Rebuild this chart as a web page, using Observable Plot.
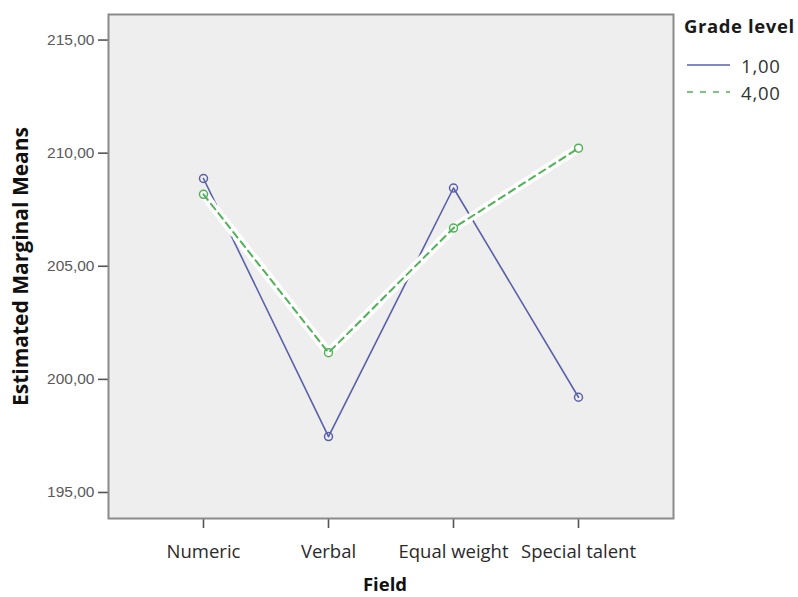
<!DOCTYPE html>
<html>
<head>
<meta charset="utf-8">
<script src="https://cdn.jsdelivr.net/npm/d3@7"></script>
<script src="https://cdn.jsdelivr.net/npm/@observablehq/plot@0.6"></script>
<style>
  html, body { margin: 0; padding: 0; background: #fff; }
  #wrap { position: relative; width: 798px; height: 597px; overflow: hidden; }
  #legend { position: absolute; left: 0; top: 0; font-family: "Open Sans", sans-serif; color: #222; }
  #legend .title { position: absolute; left: 684px; top: 13px; white-space: nowrap; font-weight: bold; font-size: 18.5px; letter-spacing: 0.6px; color: #1a1a1a; }
  #legend .item { position: absolute; left: 686px; display: flex; align-items: center; font-size: 18.5px; letter-spacing: 0.8px; height: 26px; color: #333; white-space: nowrap; }
  #legend svg { margin-right: 9px; }
</style>
</head>
<body>
<div id="wrap"><div id="chart"></div><div id="legend"></div></div>
<script>
const categories = ["Numeric", "Verbal", "Equal weight", "Special talent"];
const grade1 = [208.88, 197.47, 208.46, 199.21];
const grade4 = [208.18, 201.18, 206.69, 210.22];
const seriesNames = ["1,00", "4,00"];
const yTicks = [195, 200, 205, 210, 215];

const blue = "#5a60a8";
const green = "#4fb257";

const d1 = categories.map((c, i) => ({field: c, value: grade1[i], grade: seriesNames[0]}));
const d4 = categories.map((c, i) => ({field: c, value: grade4[i], grade: seriesNames[1]}));

const fmt = d => d.toFixed(2).replace(".", ",");

const chart = Plot.plot({
  width: 798,
  height: 597,
  marginLeft: 108,
  marginRight: 125,
  marginTop: 14,
  marginBottom: 79,
  style: {fontFamily: "Open Sans, sans-serif", background: "#fff", color: "#333"},
  x: {type: "point", domain: categories, padding: 0.75},
  y: {domain: [193.85, 216.13]},
  marks: [
    Plot.frame({fill: "#eeeeee"}),
    Plot.axisY({ticks: yTicks, tickFormat: fmt, tickSize: 10, tickPadding: 4, label: null,
      fontSize: 15.5, fontFamily: "Liberation Sans, Arial, sans-serif", color: "#5a5a5a", stroke: "#555", strokeWidth: 1.6}),
    Plot.axisX({tickSize: 10, tickPadding: 16, label: null, fontSize: 18.5, color: "#2a2a2a", stroke: "#555", strokeWidth: 1.6,
      style: {letterSpacing: "1px"}}),
    Plot.frame({stroke: "#8a8a8a", strokeWidth: 2}),
    Plot.line(d1, {x: "field", y: "value", stroke: blue, strokeWidth: 1.6}),
    Plot.line(d4, {x: "field", y: "value", stroke: "#ffffff", strokeWidth: 9, strokeDasharray: "7,5", strokeDashoffset: 6}),
    Plot.line(d4, {x: "field", y: "value", stroke: green, strokeWidth: 2, strokeDasharray: "7,5"}),
    Plot.dot(d1, {x: "field", y: "value", r: 4, stroke: blue, strokeWidth: 1.5, fill: "none"}),
    Plot.dot(d4, {x: "field", y: "value", r: 4, stroke: green, strokeWidth: 1.5, fill: "none"}),
    Plot.text(["Estimated Marginal Means"], {frameAnchor: "left", textAnchor: "middle", rotate: -90, dx: -87, fontWeight: "bold", fontSize: 21, fill: "#111",
      style: {letterSpacing: "0.9px"}}),
    Plot.text(["Field"], {frameAnchor: "bottom", dy: 72, dx: -6, fontWeight: "bold", fontSize: 18.5, fill: "#111"})
  ]
});
document.getElementById("chart").appendChild(chart);

const legend = document.getElementById("legend");
legend.innerHTML = `<div class="title">Grade level</div>` +
  seriesNames.map((n, i) => `<div class="item" style="top:${52 + i * 27}px"><svg width="46" height="10"><line x1="1" x2="44" y1="5" y2="5" stroke="${i === 0 ? blue : green}" stroke-width="1.6" ${i === 1 ? 'stroke-dasharray="6,7"' : ''}/></svg>${n}</div>`).join("");
</script>
</body>
</html>
